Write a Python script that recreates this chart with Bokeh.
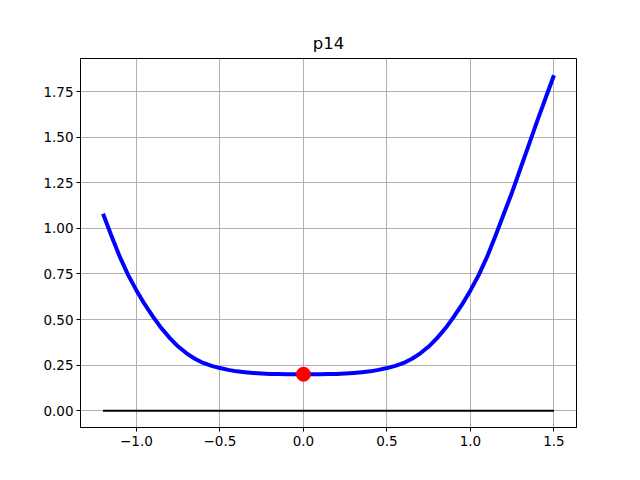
from bokeh.plotting import figure
from bokeh.models import Range1d, FixedTicker
from bokeh.embed import file_html
from bokeh.resources import INLINE

# Curve values (symmetric about x = 0)
curve_x = [-1.5 + 0.05 * i for i in range(61)]
half_y = [0.200, 0.200, 0.200, 0.201, 0.202, 0.204, 0.207, 0.211, 0.216, 0.224,
          0.234, 0.246, 0.262, 0.285, 0.315, 0.352, 0.398, 0.452, 0.515, 0.583,
          0.660, 0.745, 0.845, 0.960, 1.080, 1.200, 1.330, 1.460, 1.590, 1.715, 1.840]
curve_y = half_y[::-1] + half_y[1:]
# visible part starts at x = -1.2
curve_x = [round(x, 2) for x in curve_x][6:]
curve_y = curve_y[6:]

baseline_x = [-1.2, 1.5]
baseline_y = [0.0, 0.0]

point_x = [0.0]
point_y = [0.2]

x_ticks = [-1.0, -0.5, 0.0, 0.5, 1.0, 1.5]
x_labels = ["\u22121.0", "\u22120.5", "0.0", "0.5", "1.0", "1.5"]
y_ticks = [0.0, 0.25, 0.5, 0.75, 1.0, 1.25, 1.5, 1.75]
y_labels = ["0.00", "0.25", "0.50", "0.75", "1.00", "1.25", "1.50", "1.75"]

p = figure(width=640, height=480, output_backend="svg", toolbar_location=None,
           title="p14",
           x_range=Range1d(-1.335, 1.635), y_range=Range1d(-0.092, 1.932),
           min_border_left=80, min_border_right=64, min_border_top=58, min_border_bottom=53)

p.title.align = "center"
p.title.text_font = "DejaVu Sans"
p.title.text_font_size = "16.5px"
p.title.text_font_style = "normal"
p.title.text_color = "black"
p.title.standoff = 12

p.outline_line_color = "black"
p.outline_line_width = 1
p.outline_line_alpha = 1.0

for ax in (p.xaxis[0], p.yaxis[0]):
    ax.axis_line_color = "black"
    ax.major_tick_line_color = "black"
    ax.major_tick_out = 4
    ax.major_tick_in = 0
    ax.minor_tick_line_color = None
    ax.major_label_text_font = "DejaVu Sans"
    ax.major_label_text_font_size = "13.5px"
    ax.major_label_text_color = "black"
    ax.major_label_standoff = 4
p.yaxis[0].major_label_standoff = 3

p.xaxis[0].ticker = FixedTicker(ticks=x_ticks)
p.yaxis[0].ticker = FixedTicker(ticks=y_ticks)
p.xaxis[0].major_label_overrides = {t: l for t, l in zip(x_ticks, x_labels)}
p.yaxis[0].major_label_overrides = {t: l for t, l in zip(y_ticks, y_labels)}

p.xgrid.ticker = FixedTicker(ticks=x_ticks)
p.ygrid.ticker = FixedTicker(ticks=y_ticks)
for g in (p.xgrid[0], p.ygrid[0]):
    g.grid_line_color = "#b0b0b0"
    g.grid_line_width = 1

p.line(curve_x, curve_y, line_color="blue", line_width=4, line_join="round")
p.line(baseline_x, baseline_y, line_color="black", line_width=2)
p.scatter(point_x, point_y, size=14, fill_color="red", line_color="red")

open("out.html", "w").write(file_html(p, INLINE))
